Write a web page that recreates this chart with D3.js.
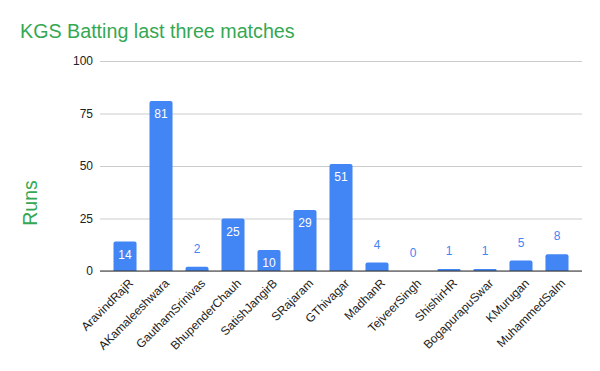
<!DOCTYPE html>
<html>
<head>
<meta charset="utf-8">
<style>
body { margin: 0; background: #fff; }
text { font-family: "Liberation Sans", Arial, sans-serif; }
</style>
</head>
<body>
<div id="chart"></div>
<script src="https://cdn.jsdelivr.net/npm/d3@7"></script>
<script>
var players = ["AravindRajR", "AKamaleeshwara", "GauthamSrinivas", "BhupenderChauh", "SatishJangirB",
  "SRajaram", "GThivagar", "MadhanR", "TejveerSingh", "ShishirHR", "BogapurapuSwar", "KMurugan", "MuhammedSalm"];
var runs = [14, 81, 2, 25, 10, 29, 51, 4, 0, 1, 1, 5, 8];
var yTicks = [0, 25, 50, 75, 100];

var W = 600, H = 371;
var plotL = 100, plotR = 582, plotT = 61, plotB = 271;
var barCol = "#4285f4", green = "#34a853";

var svg = d3.select("#chart").append("svg")
  .attr("width", W)
  .attr("height", H);

var x = d3.scaleBand()
  .domain(players)
  .range([plotL, plotR])
  .paddingInner(0.36)
  .paddingOuter(0.375);

var y = d3.scaleLinear()
  .domain([0, 100])
  .range([plotB, plotT]);

// title
svg.append("text")
  .text("KGS Batting last three matches")
  .attr("x", 20)
  .attr("y", 38)
  .style("font-size", "19.7px")
  .style("fill", green);

// axis title
svg.append("text")
  .text("Runs")
  .attr("transform", "translate(37,203) rotate(-90)")
  .style("text-anchor", "middle")
  .style("font-size", "19.5px")
  .style("fill", green);

// gridlines + labels
var yAxis = svg.append("g")
  .attr("transform", "translate(" + plotL + ",0)")
  .call(d3.axisLeft(y).tickValues(yTicks).tickSize(-(plotR - plotL)).tickPadding(7));
yAxis.select(".domain").remove();
yAxis.selectAll(".tick line").attr("stroke", "#cccccc");
yAxis.selectAll(".tick text")
  .style("font-size", "12px")
  .style("fill", "#222")
  .style("font-family", "Liberation Sans, Arial, sans-serif");

// bars with slightly rounded tops
function barPath(d, i) {
  var x0 = x(players[i]), w = x.bandwidth();
  var y0 = y(d), h = plotB - y0;
  var r = Math.min(2, h / 2);
  if (h <= 0) return "";
  return "M" + x0 + "," + plotB +
    " L" + x0 + "," + (y0 + r) +
    " Q" + x0 + "," + y0 + " " + (x0 + r) + "," + y0 +
    " L" + (x0 + w - r) + "," + y0 +
    " Q" + (x0 + w) + "," + y0 + " " + (x0 + w) + "," + (y0 + r) +
    " L" + (x0 + w) + "," + plotB + " Z";
}

svg.selectAll("path.bar")
  .data(runs)
  .enter().append("path")
  .attr("class", "bar")
  .attr("d", barPath)
  .style("fill", barCol);

// value labels
svg.selectAll("text.val")
  .data(runs)
  .enter().append("text")
  .attr("class", "val")
  .text(function(d) { return d; })
  .attr("x", function(d, i) { return x(players[i]) + x.bandwidth() / 2; })
  .attr("y", function(d) {
    var h = plotB - y(d);
    return h > 20 ? y(d) + 17 : y(d) - 14;
  })
  .style("text-anchor", "middle")
  .style("font-size", "12px")
  .style("fill", function(d) { return (plotB - y(d)) > 20 ? "#ffffff" : barCol; });

// zero line
svg.append("line")
  .attr("x1", plotL).attr("x2", plotR)
  .attr("y1", y(0)).attr("y2", y(0))
  .attr("stroke", "#333333");

// category labels
svg.selectAll("text.cat")
  .data(players)
  .enter().append("text")
  .attr("class", "cat")
  .text(function(d) { return d; })
  .attr("transform", function(d) {
    return "translate(" + (x(d) + x.bandwidth() / 2 + 6) + "," + (plotB + 10) + ") rotate(-45)";
  })
  .attr("dy", "0.35em")
  .style("text-anchor", "end")
  .style("font-size", "12px")
  .style("fill", "#222");
</script>
</body>
</html>
